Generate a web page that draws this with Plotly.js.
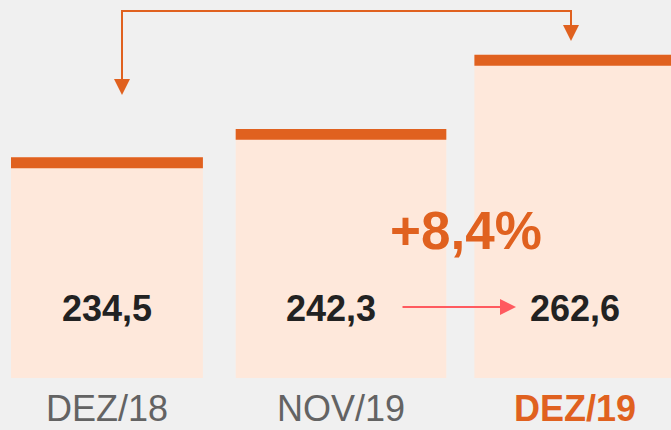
<!DOCTYPE html>
<html>
<head>
<meta charset="utf-8">
<script src="https://cdn.plot.ly/plotly-3.0.1.min.js"></script>
<style>html,body{margin:0;padding:0;background:#f0f0f0;}#chart{width:671px;height:430px;}</style>
</head>
<body>
<div id="chart"></div>
<script>
// ---- data ----
const categories = ["DEZ/18", "NOV/19", "DEZ/19"];
const values = [234.5, 242.3, 262.6];
const valueLabels = ["234,5", "242,3", "262,6"];
const changeLabel = "+8,4%";

// ---- style ----
const ORANGE = "#e0611f";
const PEACH = "#fee8db";
const BG = "#f0f0f0";
const CAP = 3.0;               // thickness of the orange top band (data units)
const barWidths = [0.82, 0.90, 0.86];
const W = 671, PH = 378;       // figure width, plot-area height (px)
const px = x => x / W;
const py = y => (PH - y) / PH;

const tickText = categories.map((c, i) => i === categories.length - 1
  ? '<span style="color:' + ORANGE + '"><b>' + c + '</b></span>'
  : c);

const fillTrace = {
  type: "bar", x: categories, y: values, width: barWidths,
  marker: {color: PEACH, line: {width: 0}}, hoverinfo: "skip", showlegend: false
};
const capTrace = {
  type: "bar", x: categories, y: values.map(() => CAP), base: values.map(v => v - CAP),
  width: barWidths, marker: {color: ORANGE, line: {width: 0}}, hoverinfo: "skip", showlegend: false
};

const labelShift = [0, -10, 0];
const annotations = valueLabels.map((t, i) => ({
  x: categories[i], xref: "x", y: py(308), yref: "paper",
  text: "<b>" + t + "</b>", showarrow: false, xanchor: "center", yanchor: "middle",
  xshift: labelShift[i],
  font: {family: "Liberation Sans, Arial, sans-serif", size: 36, color: "#222222"}
}));
annotations.push({
  x: px(466), xref: "paper", y: py(230), yref: "paper",
  text: "<b>" + changeLabel + "</b>", showarrow: false, xanchor: "center", yanchor: "middle",
  font: {family: "Liberation Sans, Arial, sans-serif", size: 53, color: ORANGE}
});
annotations.push({
  x: px(516), xref: "paper", y: py(307), yref: "paper", text: "",
  showarrow: true, ax: -115, ay: 0, axref: "pixel", ayref: "pixel",
  arrowhead: 2, arrowsize: 1.6, arrowwidth: 2, arrowcolor: "#ff5a5f", standoff: 0
});

const shapes = [
  {type: "path", xref: "paper", yref: "paper",
   path: `M ${px(122)},${py(80)} L ${px(122)},${py(11)} L ${px(571)},${py(11)} L ${px(571)},${py(26)}`,
   line: {color: ORANGE, width: 2}},
  {type: "path", xref: "paper", yref: "paper",
   path: `M ${px(114)},${py(79)} L ${px(130)},${py(79)} L ${px(122)},${py(95)} Z`,
   fillcolor: ORANGE, line: {color: ORANGE, width: 0}},
  {type: "path", xref: "paper", yref: "paper",
   path: `M ${px(563)},${py(25)} L ${px(579)},${py(25)} L ${px(571)},${py(41)} Z`,
   fillcolor: ORANGE, line: {color: ORANGE, width: 0}}
];

const layout = {
  width: 671, height: 430,
  margin: {l: 0, r: 0, t: 0, b: 52, pad: 0},
  paper_bgcolor: BG, plot_bgcolor: BG,
  barmode: "overlay",
  xaxis: {
    type: "category", range: [-0.457, 2.410],
    tickmode: "array", tickvals: categories, ticktext: tickText,
    showgrid: false, zeroline: false, showline: false, ticks: "",
    ticklabelstandoff: 6,
    tickfont: {family: "Liberation Sans, Arial, sans-serif", size: 36, color: "#636363"},
    fixedrange: true
  },
  yaxis: {range: [174.07, 277.6], visible: false, showgrid: false, zeroline: false, fixedrange: true},
  annotations: annotations,
  shapes: shapes,
  showlegend: false
};

Plotly.newPlot("chart", [fillTrace, capTrace], layout, {staticPlot: true, displayModeBar: false});
</script>
</body>
</html>
